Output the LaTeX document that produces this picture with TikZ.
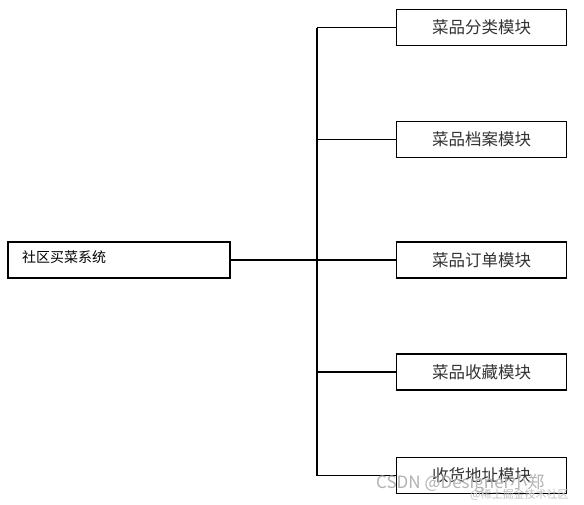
\documentclass[tikz,border=0pt]{standalone}
\usepackage{fontspec}
\newfontfamily\cjk{Noto Sans CJK SC}
\newfontfamily\cjklight{Noto Sans CJK SC Light}
\begin{document}
\begin{tikzpicture}[x=1pt,y=-1pt,
  modbox/.style={draw=black,line width=1.2pt,minimum width=170pt,minimum height=36pt,inner sep=0pt,font=\cjk\fontsize{16.5}{18}\selectfont,text=black!80},
  rootbox/.style={draw=black,line width=1.2pt,minimum width=222pt,minimum height=36pt,inner sep=0pt},
  conn/.style={line width=1.2pt}]
\useasboundingbox (0,0) rectangle (584,504);
\fill[white] (0,0) rectangle (584,504);
\node[rootbox] (root) at (119,260) {};
\node[anchor=west,font=\cjk\fontsize{14}{16}\selectfont,inner sep=0pt] (roottext) at (22,257) {社区买菜系统};
\node[modbox] (m1) at (481.5,27.5) {菜品分类模块};
\node[modbox] (m2) at (481.5,139.5) {菜品档案模块};
\node[modbox] (m3) at (481.5,260) {菜品订单模块};
\node[modbox] (m4) at (481.5,372) {菜品收藏模块};
\node[modbox] (m5) at (481.5,475.5) {收货地址模块};
\coordinate (j) at (317,260);
\coordinate (jt) at (317,27.5);
\coordinate (jb) at (317,475.5);
\draw[conn] (root.east) -- (j);
\draw[conn] (jt) -- (jb);
\draw[conn] (jt) -- (m1.west);
\draw[conn] (m2.west -| j) -- (m2.west);
\draw[conn] (j) -- (m3.west);
\draw[conn] (m4.west -| j) -- (m4.west);
\draw[conn] (jb) -- (m5.west);
\node[anchor=west,inner sep=0pt,text=black!30,font=\cjk\fontsize{17}{18}\selectfont] (wm1) at (376,484) {CSDN @Designer小郑};
\node[anchor=west,inner sep=0pt,text=black!25,font=\cjk\fontsize{11}{12}\selectfont] (wm2) at (470,495) {@稀土掘金技术社区};
\end{tikzpicture}
\end{document}
